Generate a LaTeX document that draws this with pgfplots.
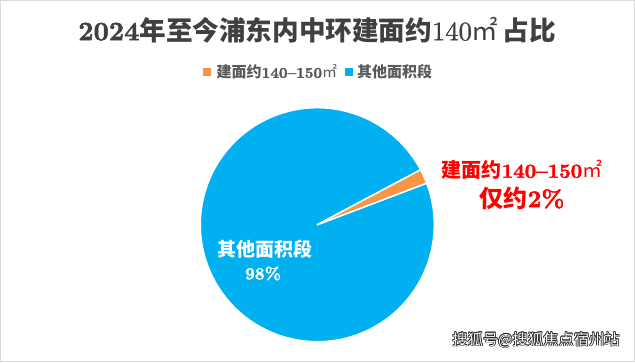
\documentclass[border=0pt]{standalone}
\usepackage{pgfplots}
\pgfplotsset{compat=1.18}
\usepackage{pgfplotstable}
\usepackage{fontspec}
\newfontfamily\cjk{Noto Sans CJK SC}
\newfontfamily\numb{lmroman10-bold.otf}[Ligatures=TeX, FakeBold=1.8]
\newfontfamily\numr{lmroman10-regular.otf}[Ligatures=TeX, FakeBold=1]
\definecolor{pieblue}{HTML}{00B0F0}
\definecolor{pieorange}{HTML}{F79646}
\definecolor{titlegray}{HTML}{404040}
\definecolor{leggray}{HTML}{595959}
\definecolor{bordergray}{HTML}{D9D9D9}
\definecolor{labelred}{HTML}{FF0000}
\pgfplotstableread{
label value
A 2
B 98
}\piedata
\begin{document}
\begin{tikzpicture}
\useasboundingbox (0pt,0pt) rectangle (635pt,362pt);
\fill[white] (0pt,0pt) rectangle (635pt,362pt);
\draw[bordergray, line width=1.2pt] (0.6pt,0.6pt) rectangle (634.4pt,361.4pt);
% title
\node[inner sep=0pt, text=titlegray, font=\fontsize{26.6}{30}\selectfont] at (317pt,332pt)
  {{\numb 2024}{\cjk\bfseries 年至今浦东内中环建面约}{\numr 140}{\cjk ㎡}\hspace{4pt}{\cjk\bfseries 占比}};
% legend
\fill[pieorange] (203pt,286pt) rectangle (211pt,294pt);
\node[anchor=west, inner sep=0pt, text=leggray, font=\fontsize{15}{18}\selectfont] at (216.5pt,290pt)
  {{\cjk\bfseries 建面约}{\numb 140--150}{\cjk ㎡}};
\fill[pieblue] (344.5pt,286pt) rectangle (352.5pt,294pt);
\node[anchor=west, inner sep=0pt, text=leggray, font=\fontsize{15}{18}\selectfont] at (357pt,290pt)
  {{\cjk\bfseries 其他面积段}};
% pie angles from data
\pgfplotstablegetelem{0}{value}\of\piedata \edef\va{\pgfplotsretval}
\pgfplotstablegetelem{1}{value}\of\piedata \edef\vb{\pgfplotsretval}
\pgfmathsetmacro\sa{20.8}
\pgfmathsetmacro\ea{\sa+3.6*\va}
\pgfmathsetmacro\eb{\ea+3.6*\vb}
\begin{axis}[at={(317.3pt,137.3pt)}, anchor=origin,
  width=234pt, height=234pt, scale only axis,
  xmin=-1, xmax=1, ymin=-1, ymax=1, hide axis, clip=false]
\filldraw[fill=pieblue, draw=white, line width=1.5pt, line join=round]
  (axis cs:0,0) -- (axis cs:{cos(\ea)},{sin(\ea)}) arc[start angle=\ea, end angle=\eb, radius=117pt] -- cycle;
\filldraw[fill=pieorange, draw=white, line width=1.5pt, line join=round]
  (axis cs:0,0) -- (axis cs:{cos(\sa)},{sin(\sa)}) arc[start angle=\sa, end angle=\ea, radius=117pt] -- cycle;
\end{axis}
% pie labels
\node[inner sep=0pt, text=white, font=\fontsize{19}{22}\selectfont] at (265pt,112.5pt) {{\cjk\bfseries 其他面积段}};
\node[inner sep=0pt, text=white, font=\fontsize{17}{20}\selectfont] at (263pt,88.5pt) {{\numb 98\%}};
\node[inner sep=0pt, text=labelred, font=\fontsize{20}{23}\selectfont] at (522pt,192pt)
  {{\cjk\bfseries 建面约}{\numb 140--150}{\cjk ㎡}};
\node[inner sep=0pt, text=labelred, font=\fontsize{24}{27}\selectfont] at (522pt,164pt)
  {{\cjk\bfseries 仅约}{\numb 2\%}};
% watermark
\foreach \dx/\dy in {-0.7/0,0.7/0,0/-0.7,0/0.7,-0.5/-0.5,0.5/0.5,-0.5/0.5,0.5/-0.5}{
  \node[inner sep=0pt, text=black!85, font=\fontsize{15.3}{18}\selectfont] at (536pt+\dx pt,22pt+\dy pt) {{\cjk 搜狐号@搜狐焦点宿州站}};
}
\node[inner sep=0pt, text=white, font=\fontsize{15.3}{18}\selectfont] at (536pt,22pt) {{\cjk 搜狐号@搜狐焦点宿州站}};
\end{tikzpicture}
\end{document}
